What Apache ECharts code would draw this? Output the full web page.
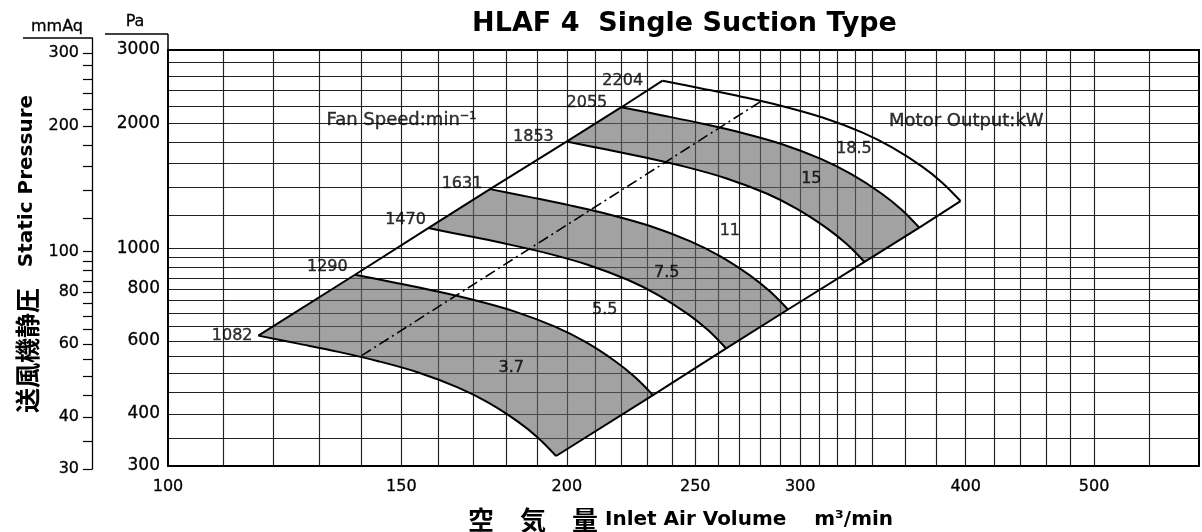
<!DOCTYPE html>
<html><head><meta charset="utf-8">
<script src="https://cdn.jsdelivr.net/npm/echarts@6/dist/echarts.min.js"></script>
<style>html,body{margin:0;padding:0;background:#fff}#c{width:1202px;height:532px}</style>
</head><body><div id="c"></div>
<script>
// ---------- data ----------
const speeds = [1082, 1290, 1470, 1631, 1853, 2055, 2204];
// fan curves: [air volume m3/min, static pressure Pa]
const curve1082 = [[117.0,617.3],[125.4,590.6],[134.5,564.2],[144.1,535.9],[154.5,503.4],[165.6,463.0],[174.5,426.0],[183.8,383.0],[190.3,350.5],[196.3,317.1]];
const curve1290 = [[138.4,864.8],[148.4,827.4],[159.0,790.4],[170.5,750.8],[182.8,705.2],[195.9,648.7],[206.4,596.8],[217.4,536.5],[225.1,491.1],[232.3,444.2]];
const curve1470 = [[157.2,1119.5],[168.5,1071.1],[180.7,1023.1],[193.7,971.9],[207.6,912.9],[222.5,839.8],[234.4,772.6],[247.0,694.6],[255.7,635.7],[263.8,575.0]];
const curve1631 = [[175.0,1389],[187.6,1328.9],[201.1,1269.4],[215.6,1205.9],[231.1,1132.7],[247.7,1041.9],[261.0,958.6],[274.9,861.8],[284.6,788.8],[293.7,713.4]];
const curve1853 = [[199.9,1807],[214.3,1728.8],[229.7,1651.5],[246.3,1568.8],[264.0,1473.6],[283.0,1355.5],[298.1,1247.1],[314.0,1121.1],[325.1,1026.1],[335.5,928.1]];
const curve2055 = [[219.9,2185.6],[235.7,2091.1],[252.7,1997.5],[270.9,1897.5],[290.4,1782.4],[311.3,1639.5],[327.9,1508.4],[345.5,1356.0],[357.7,1241.1],[369.0,1122.6]];
const curve2204 = [[236.2,2531.7],[253.2,2422.2],[271.4,2313.8],[291.0,2197.9],[311.9,2064.6],[334.4,1899.1],[352.2,1747.2],[371.1,1570.7],[384.2,1437.6],[396.4,1300.3]];
const dashDotLine = [[140.0,552.5],[281.3,2275]];
const speedLabelPos = [[111.8,617.3],[131.9,902.5],[151.1,1172],[166.7,1430.5],[188.7,1851.5],[207.1,2234],[220.4,2527]];
const kwLabels = ['3.7','5.5','7.5','11','15','18.5'];
const kwLabelPos = [[181.6,516],[213.6,712.6],[237.9,873],[265.5,1104.7],[305.9,1468],[329.4,1732]];
const noteTexts = ['Fan Speed:min\u207B\u00B9','Motor Output:kW'];
const notePos = [[131.7,2037],[350.1,2026]];
// axes
const xGridLines = [110,120,130,140,150,160,170,180,190,200,210,220,230,240,250,260,270,280,290,300,310,320,330,340,360,380,400,420,440,460,480,500,550];
const xTickLabels = [100,150,200,250,300,400,500];
const yGridLines = [350,400,450,500,550,600,650,700,750,800,850,900,950,1000,1200,1400,1600,1800,2000,2200,2400,2600,2800];
const yTickLabels = [300,400,600,800,1000,2000,3000];
const mmAqTicks = [30,35,40,45,50,55,60,65,70,75,80,85,90,95,100,120,140,160,180,200,220,240,260,280,300];
const mmAqLabels = [30,40,60,80,100,200,300];

// ---------- chart ----------
const FONT = 'DejaVu Sans';
const CJK = 'Noto Sans CJK JP';
const INK = '#000';
const curves = [curve1082, curve1290, curve1470, curve1631, curve1853, curve2055, curve2204];
const bands = [[curve1082, curve1290], [curve1470, curve1631], [curve1853, curve2055]];

function lineSeries(data, extra) {
  return Object.assign({
    type: 'line', data: data, xAxisIndex: 0, yAxisIndex: 0,
    symbol: 'none', showSymbol: false, silent: true, animation: false, smooth: 0.35,
    lineStyle: { color: '#000', width: 2 }, z: 3
  }, extra || {});
}
function labelSeries(data, labelExtra) {
  return {
    type: 'scatter', xAxisIndex: 0, yAxisIndex: 0, data: data,
    symbolSize: 0.1, itemStyle: { color: 'rgba(0,0,0,0)' }, silent: true, animation: false, z: 5,
    label: Object.assign({ show: true, position: 'inside', formatter: p => p.name,
      color: INK, fontFamily: FONT, fontSize: 16, textBorderColor: INK, textBorderWidth: 0.4 }, labelExtra || {})
  };
}

const series = [];
series.push({
  type: 'custom', coordinateSystem: 'cartesian2d', xAxisIndex: 0, yAxisIndex: 0,
  silent: true, animation: false, z: 2,
  data: bands.map(b => b[0][0]),
  renderItem: function (params, api) {
    const b = bands[params.dataIndex];
    const pts = b[0].concat(b[1].slice().reverse()).map(p => api.coord(p));
    return { type: 'polygon', shape: { points: pts }, style: { fill: 'rgba(100,100,100,0.6)', stroke: null } };
  }
});
curves.forEach(c => series.push(lineSeries(c)));
series.push(lineSeries(curves.map(c => c[0]), { smooth: false }));
series.push(lineSeries(curves.map(c => c[c.length - 1]), { smooth: false }));
series.push(lineSeries(dashDotLine, { smooth: false, lineStyle: { color: '#000', width: 1.6, type: [11, 4, 2, 4] } }));
series.push(labelSeries(speedLabelPos.map((p, i) => ({ value: p, name: String(speeds[i]) }))));
series.push(labelSeries(kwLabelPos.map((p, i) => ({ value: p, name: kwLabels[i] }))));
series.push(labelSeries(notePos.map((p, i) => ({ value: p, name: noteTexts[i] })), { position: 'right', distance: 0, fontSize: 18 }));

const axisText = { color: INK, fontFamily: FONT, formatter: v => String(v), textBorderColor: INK, textBorderWidth: 0.3 };
const option = {
  animation: false,
  backgroundColor: '#fff',
  grid: [
    { left: 168, top: 50, width: 1031, height: 416, show: true, borderColor: '#000', borderWidth: 2, outerBoundsMode: 'none' },
    { left: 92, top: 38, width: 1, height: 431, outerBoundsMode: 'none' }
  ],
  xAxis: [
    { gridIndex: 0, type: 'log', logBase: 10, min: 100, max: 600,
      axisLine: { show: true, lineStyle: { color: '#000', width: 2 } },
      axisTick: { show: false, customValues: xGridLines },
      splitLine: { show: true, lineStyle: { color: '#222', width: 1.15 } },
      axisLabel: Object.assign({ customValues: xTickLabels, fontSize: 16, margin: 13 }, axisText) },
    { gridIndex: 1, type: 'value', show: false }
  ],
  yAxis: [
    { gridIndex: 0, type: 'log', logBase: 10, min: 300, max: 3000,
      axisLine: { show: true, lineStyle: { color: '#000', width: 2 } },
      axisTick: { show: false, customValues: yGridLines },
      splitLine: { show: true, lineStyle: { color: '#222', width: 1.15 } },
      axisLabel: Object.assign({ customValues: yTickLabels, fontSize: 17, margin: 8 }, axisText) },
    { gridIndex: 1, type: 'log', logBase: 10, min: 30, max: 326, position: 'left',
      axisLine: { show: true, lineStyle: { color: '#000', width: 1.3 } },
      axisTick: { show: true, inside: false, length: 9, customValues: mmAqTicks, lineStyle: { color: '#000', width: 1.2 } },
      splitLine: { show: false },
      axisLabel: Object.assign({ customValues: mmAqLabels, fontSize: 16, margin: 13 }, axisText) }
  ],
  graphic: [
    { type: 'text', x: 684.5, y: 23.5, style: { text: 'HLAF 4  Single Suction Type', fill: INK,
      font: 'bold 27px "DejaVu Sans"', align: 'center', verticalAlign: 'middle' } },
    { type: 'text', x: 57, y: 27, style: { text: 'mmAq', fill: INK, font: '16px "DejaVu Sans"', align: 'center', verticalAlign: 'middle', stroke: INK, lineWidth: 0.3 } },
    { type: 'text', x: 135, y: 22, style: { text: 'Pa', fill: INK, font: '16px "DejaVu Sans"', align: 'center', verticalAlign: 'middle', stroke: INK, lineWidth: 0.3 } },
    { type: 'line', shape: { x1: 23, y1: 38, x2: 92, y2: 38 }, style: { stroke: '#000', lineWidth: 1.3 } },
    { type: 'line', shape: { x1: 105, y1: 34, x2: 168, y2: 34 }, style: { stroke: '#000', lineWidth: 1.3 } },
    { type: 'line', shape: { x1: 168, y1: 34, x2: 168, y2: 50 }, style: { stroke: '#000', lineWidth: 1.5 } },
    { type: 'text', x: 27, y: 254, rotation: Math.PI / 2, style: {
      text: '{c|送風機静圧}{l|   Static Pressure}', align: 'center', verticalAlign: 'middle', fill: INK,
      rich: { c: { fontFamily: CJK, fontSize: 25, fill: INK, fontWeight: 'bold' }, l: { fontFamily: FONT, fontSize: 20, fontWeight: 'bold', fill: INK } } } },
    { type: 'text', x: 468, y: 520, style: {
      text: '{c|空\u3000気\u3000量}{l| Inlet Air Volume    m\u00B3/min}', align: 'left', verticalAlign: 'middle', fill: INK,
      rich: { c: { fontFamily: CJK, fontSize: 26, fill: INK, fontWeight: 'bold' }, l: { fontFamily: FONT, fontSize: 20, fontWeight: 'bold', fill: INK } } } }
  ],
  series: series
};
const chart = echarts.init(document.getElementById('c'));
chart.setOption(option);
</script>
</body></html>
